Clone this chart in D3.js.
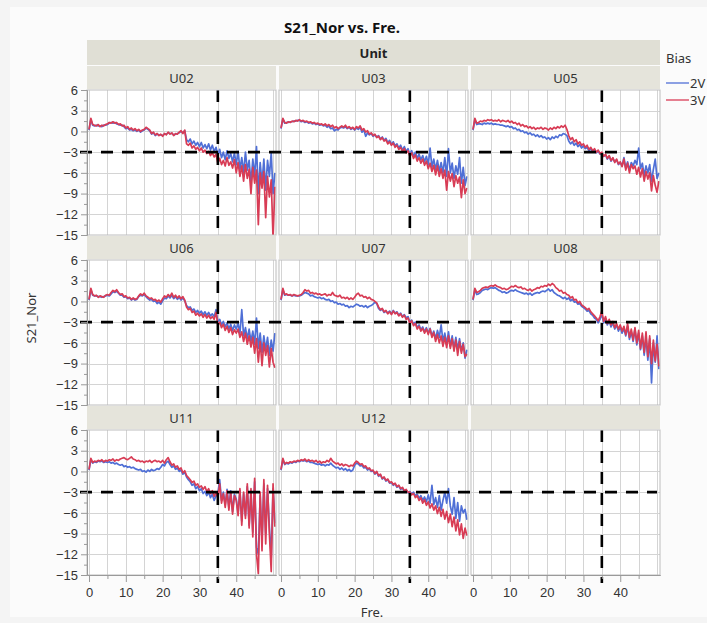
<!DOCTYPE html>
<html>
<head>
<meta charset="utf-8">
<script src="https://cdn.jsdelivr.net/npm/d3@7"></script>
<style>
body { margin: 0; background: #f7f7f7; }
svg { display: block; font-family: "Segoe UI", "Noto Sans", "Open Sans", sans-serif; }
</style>
</head>
<body>
<svg width="707" height="623"></svg>
<script>
const units = ["U02", "U03", "U05", "U06", "U07", "U08", "U11", "U12"]
const biasLevels = ["2V", "3V"]
const biasColors = ["#4f6fd6", "#d83c55"]
const yTicks = [6, 3, 0, -3, -6, -9, -12, -15]
const xTicks = [0, 10, 20, 30, 40]
const refFre = 35
const refS21 = -3
// frequency grid, 0 .. 50.5 every 0.5
const fre = d3.range(0, 50.51, 0.5)

const u02_2V = [
 0.2, 1.7, 0.9, 0.8, 0.9, 0.8, 0.8, 0.7, 0.9, 0.9,
 1.0, 1.2, 1.3, 1.2, 1.3, 1.1, 1.0, 0.9, 0.9, 0.7,
 0.4, 0.5, 0.2, 0.3, 0.1, 0.2, 0.0, 0.2, -0.1, 0.1,
 0.2, 0.5, 0.3, 0.1, -0.4, -0.2, -0.6, -0.4, -0.5, -0.5,
 -0.6, -0.4, -0.4, -0.2, -0.3, -0.3, -0.5, -0.4, -0.3, -0.2,
 0.0, -0.2, 0.1, -1.2, -1.5, -1.1, -1.8, -1.4, -2.0, -1.6,
 -2.2, -1.6, -2.4, -1.9, -2.5, -1.8, -2.7, -2.0, -2.9, -2.3,
 -3.4, -2.6, -3.8, -3.0, -4.1, -2.8, -3.9, -3.2, -4.4, -3.1,
 -4.8, -2.9, -5.5, -3.8, -6.0, -3.0, -5.6, -4.2, -7.5, -4.0,
 -6.5, -2.2, -9.0, -4.5, -7.5, -4.0, -8.5, -4.2, -6.5, -3.1,
 -9.0, -6.0]
const u02_3V = [
 0.3, 1.9, 1.0, 0.9, 0.8, 1.0, 0.7, 0.9, 0.8, 1.0,
 1.1, 1.3, 1.2, 1.4, 1.2, 1.3, 1.0, 1.1, 0.8, 0.9,
 0.5, 0.7, 0.3, 0.5, 0.2, 0.4, 0.1, 0.3, 0.0, 0.2,
 0.3, 0.6, 0.4, 0.2, -0.3, -0.1, -0.5, -0.3, -0.6, -0.4,
 -0.7, -0.3, -0.5, -0.1, -0.4, -0.2, -0.6, -0.3, -0.4, -0.1,
 0.1, -0.3, 0.2, -1.8, -2.0, -1.7, -2.4, -2.1, -2.6, -2.3,
 -2.8, -2.4, -3.0, -2.7, -3.2, -2.9, -3.5, -3.1, -3.7, -3.3,
 -4.6, -3.9, -4.8, -4.2, -5.0, -3.8, -4.9, -4.4, -5.3, -4.1,
 -6.0, -4.5, -6.5, -5.0, -7.2, -4.8, -6.8, -5.5, -9.0, -5.2,
 -7.5, -5.6, -13.5, -6.0, -8.2, -5.8, -12.5, -6.5, -9.5, -7.0,
 -15.5, -8.0]

const u03_2V = [
 0.4, 1.8, 1.2, 1.3, 1.3, 1.4, 1.4, 1.5, 1.5, 1.6,
 1.6, 1.4, 1.5, 1.3, 1.4, 1.2, 1.3, 1.1, 1.2, 1.0,
 1.1, 0.9, 1.0, 0.8, 0.9, 0.6, 0.8, 0.4, 0.5, 0.1,
 0.3, 0.2, 0.5, 0.6, 0.5, 0.7, 0.4, 0.6, 0.3, 0.5,
 0.2, 0.5, 0.3, 0.6, -0.1, 0.2, -0.7, -0.2, -0.5, -0.3,
 -0.7, -0.5, -0.8, -0.6, -1.1, -0.8, -1.3, -1.0, -1.6, -1.3,
 -1.9, -1.5, -2.1, -1.8, -2.4, -2.0, -2.7, -2.2, -2.9, -2.5,
 -3.3, -2.8, -3.6, -3.0, -3.9, -3.3, -4.1, -3.5, -4.4, -3.6,
 -4.8, -2.4, -5.2, -4.0, -5.5, -4.2, -5.8, -4.5, -6.0, -3.8,
 -6.5, -2.5, -6.0, -4.6, -6.8, -5.0, -6.2, -3.8, -7.5, -5.2,
 -7.8, -6.5]
const u03_3V = [
 0.5, 1.9, 1.3, 1.2, 1.4, 1.3, 1.5, 1.4, 1.6, 1.5,
 1.7, 1.5, 1.6, 1.4, 1.5, 1.3, 1.4, 1.2, 1.3, 1.1,
 1.2, 1.0, 1.1, 0.9, 1.1, 0.8, 1.0, 0.7, 0.9, 0.5,
 0.7, 0.4, 0.6, 0.8, 0.6, 0.9, 0.5, 0.7, 0.4, 0.6,
 0.3, 0.7, 0.5, 0.8, 0.2, 0.4, -0.1, 0.1, -0.4, -0.2,
 -0.6, -0.4, -0.9, -0.7, -1.2, -0.9, -1.4, -1.2, -1.8, -1.5,
 -2.0, -1.7, -2.3, -2.0, -2.6, -2.3, -2.9, -2.5, -3.1, -2.8,
 -3.6, -3.1, -3.9, -3.4, -4.3, -3.8, -4.6, -4.0, -4.9, -4.3,
 -5.4, -4.6, -5.8, -4.9, -6.3, -5.0, -6.5, -5.4, -6.8, -5.6,
 -8.5, -5.8, -7.2, -6.1, -8.0, -6.4, -7.5, -6.6, -9.6, -7.0,
 -9.0, -8.2]

const u05_2V = [
 0.2, 1.7, 1.0, 1.1, 1.1, 1.0, 1.2, 1.1, 1.2, 1.1,
 1.2, 1.0, 1.1, 1.0, 1.0, 0.9, 0.9, 0.8, 0.7, 0.8,
 0.6, 0.7, 0.4, 0.5, 0.2, 0.3, 0.0, 0.1, -0.2, -0.1,
 -0.4, -0.2, -0.5, -0.4, -0.7, -0.5, -0.8, -0.6, -0.9, -0.8,
 -1.1, -0.9, -1.2, -0.8, -1.0, -0.7, -0.9, -0.5, -0.6, -0.3,
 -0.4, -0.6, -1.4, -1.8, -1.5, -2.0, -1.7, -2.2, -1.9, -2.4,
 -2.1, -2.5, -2.3, -2.8, -2.5, -3.0, -2.7, -3.1, -2.8, -3.3,
 -3.1, -3.6, -3.4, -4.0, -3.6, -4.3, -3.9, -4.4, -4.1, -4.8,
 -4.5, -5.0, -3.8, -5.3, -4.4, -5.6, -4.5, -5.0, -4.2, -4.8,
 -2.4, -5.4, -4.6, -6.4, -5.0, -6.0, -4.8, -7.2, -5.5, -4.0,
 -6.8, -6.0]
const u05_3V = [
 0.3, 1.9, 1.2, 1.3, 1.5, 1.4, 1.6, 1.5, 1.7, 1.6,
 1.7, 1.5, 1.6, 1.5, 1.7, 1.4, 1.6, 1.5, 1.4, 1.6,
 1.3, 1.5, 1.2, 1.3, 1.0, 1.2, 0.8, 1.0, 0.7, 0.8,
 0.5, 0.7, 0.4, 0.6, 0.3, 0.5, 0.4, 0.6, 0.3, 0.5,
 0.4, 0.2, 0.5, 0.3, 0.6, 0.4, 0.7, 0.5, 0.8, 0.6,
 0.9, 0.3, -0.6, -1.2, -0.9, -1.5, -1.2, -1.8, -1.5, -2.0,
 -1.8, -2.3, -2.0, -2.6, -2.3, -2.8, -2.5, -3.0, -2.7, -3.2,
 -3.0, -3.6, -3.3, -3.9, -3.5, -4.2, -3.8, -4.5, -4.0, -4.7,
 -4.4, -5.1, -4.0, -5.6, -4.6, -6.0, -4.8, -5.4, -5.0, -6.2,
 -5.2, -6.6, -5.4, -7.2, -5.8, -6.9, -6.0, -8.6, -6.4, -7.8,
 -8.8, -7.2]

const u06_2V = [
 0.2, 1.7, 0.9, 0.8, 0.8, 0.7, 0.7, 0.6, 0.7, 0.8,
 0.9, 0.8, 1.1, 1.4, 1.3, 1.5, 1.2, 0.9, 0.9, 0.6,
 0.7, 0.4, 0.5, 0.2, 0.4, 0.2, 0.3, 0.7, 0.9, 0.8,
 1.0, 0.7, 0.4, 0.2, 0.3, 0.0, 0.1, -0.3, -0.1, -0.4,
 0.1, 0.5, 0.4, 0.8, 0.5, 0.9, 0.4, 0.7, 0.3, 0.6,
 0.2, 0.5, 0.1, -0.6, -0.9, -0.8, -1.3, -1.1, -1.6, -1.3,
 -1.7, -1.4, -1.9, -1.5, -2.0, -1.6, -2.1, -1.8, -2.2, -1.2,
 -3.0, -2.6, -3.4, -2.9, -3.7, -3.1, -4.0, -3.3, -4.2, -3.4,
 -4.0, -3.2, -4.6, -1.2, -5.0, -3.8, -5.4, -4.0, -5.8, -4.3,
 -6.2, -2.4, -6.8, -4.6, -7.4, -5.0, -7.0, -5.2, -7.8, -5.6,
 -7.2, -4.6]
const u06_3V = [
 0.3, 1.9, 1.0, 0.8, 0.9, 0.6, 0.8, 0.7, 0.6, 0.9,
 1.0, 0.9, 1.3, 1.6, 1.4, 1.7, 1.3, 1.0, 1.1, 0.7,
 0.8, 0.5, 0.6, 0.3, 0.5, 0.3, 0.4, 0.8, 1.1, 0.9,
 1.2, 0.8, 0.6, 0.4, 0.5, 0.2, 0.3, 0.0, 0.2, -0.1,
 0.4, 0.8, 0.6, 1.0, 0.7, 1.2, 0.6, 0.9, 0.5, 0.8,
 0.4, 0.7, 0.2, -0.8, -1.2, -1.0, -1.6, -1.4, -2.0, -1.7,
 -2.1, -1.8, -2.3, -1.9, -2.4, -2.0, -2.5, -2.2, -2.6, -1.6,
 -3.4, -3.0, -3.8, -3.3, -4.2, -3.6, -4.5, -3.8, -4.8, -4.1,
 -4.6, -4.0, -5.2, -4.4, -5.8, -4.6, -6.2, -5.0, -6.6, -5.2,
 -7.5, -5.4, -8.8, -5.8, -9.3, -6.0, -7.8, -6.4, -9.5, -6.8,
 -8.8, -9.6]

const u07_2V = [
 0.2, 1.7, 0.9, 1.0, 0.9, 0.9, 0.8, 0.9, 0.8, 0.8,
 0.8, 0.9, 1.1, 1.3, 1.2, 1.1, 0.8, 0.9, 0.7, 0.6,
 0.5, 0.6, 0.4, 0.5, 0.3, 0.2, 0.3, 0.0, 0.1, -0.2,
 -0.1, -0.4, -0.3, -0.5, -0.4, -0.7, -0.6, -0.9, -0.7, -0.8,
 -0.6, -0.4, -0.5, -0.7, -0.6, -0.8, -0.6, -0.9, -0.7, -0.6,
 -0.4, -0.1, -0.3, -1.0, -1.3, -1.1, -1.6, -1.4, -1.7, -1.4,
 -1.8, -1.3, -1.7, -1.5, -2.0, -1.7, -2.2, -1.9, -2.4, -2.2,
 -3.0, -2.7, -3.3, -3.0, -3.8, -3.4, -4.1, -3.7, -4.4, -3.8,
 -4.6, -3.9, -5.0, -4.3, -5.4, -4.2, -5.2, -3.4, -5.8, -4.6,
 -6.2, -4.4, -6.5, -5.0, -6.8, -5.2, -7.0, -5.4, -7.2, -6.0,
 -8.2, -7.0]
const u07_3V = [
 0.3, 1.9, 1.0, 1.1, 0.9, 1.0, 0.8, 1.0, 0.9, 0.8,
 0.9, 1.0, 1.3, 1.7, 1.5, 1.6, 1.2, 1.3, 1.1, 1.2,
 1.0, 1.1, 0.9, 1.0, 1.1, 0.8, 1.0, 0.9, 1.3, 0.9,
 0.8, 0.7, 0.9, 0.5, 0.6, 0.4, 0.6, 0.3, 0.5, 0.3,
 0.6, 1.0, 1.2, 0.8, 0.9, 0.6, 0.7, 0.4, 0.6, 0.3,
 0.2, 0.0, -0.2, -0.8, -1.2, -1.0, -1.5, -1.3, -1.8, -1.5,
 -1.9, -1.4, -1.8, -1.6, -2.1, -1.8, -2.3, -2.0, -2.6, -2.4,
 -3.2, -2.8, -3.5, -3.2, -4.0, -3.6, -4.3, -3.9, -4.6, -4.0,
 -4.8, -4.0, -5.2, -4.5, -5.8, -4.8, -6.0, -5.0, -6.5, -5.2,
 -6.7, -5.0, -6.8, -5.4, -7.2, -5.6, -7.8, -5.8, -7.5, -6.2,
 -8.0, -7.6]

const u08_2V = [
 0.2, 1.7, 1.0, 1.1, 1.3, 1.6, 1.7, 1.8, 1.7, 1.9,
 2.0, 1.9, 2.0, 1.8, 1.6, 1.5, 1.3, 1.4, 1.2, 1.3,
 1.5, 1.6, 1.5, 1.7, 1.5, 1.4, 1.3, 1.2, 1.1, 1.2,
 1.0, 1.2, 0.9, 1.1, 1.2, 1.3, 1.2, 1.4, 1.5, 1.4,
 1.6, 1.8, 1.5, 1.7, 1.3, 1.1, 0.9, 0.8, 0.6, 0.4,
 0.6, 0.3, 0.5, 0.1, 0.3, -0.1, 0.0, -0.4, -0.3, -0.7,
 -0.9, -1.1, -1.4, -1.3, -1.8, -2.0, -2.4, -2.6, -3.1, -2.6,
 -1.8, -3.1, -2.5, -3.4, -2.8, -3.7, -3.1, -4.0, -3.4, -4.3,
 -3.7, -4.6, -3.9, -5.0, -3.6, -5.5, -4.4, -5.8, -4.0, -6.3,
 -4.6, -7.0, -5.0, -7.8, -5.2, -8.5, -5.4, -11.8, -6.0, -8.8,
 -5.0, -9.8]
const u08_3V = [
 0.3, 1.9, 1.3, 1.4, 1.6, 1.9, 2.0, 2.1, 2.0, 2.2,
 2.3, 2.2, 2.4, 2.2, 2.1, 2.0, 1.8, 1.9, 1.7, 1.8,
 2.0, 2.2, 2.1, 2.3, 2.1, 2.0, 2.1, 1.8, 1.9, 1.7,
 1.6, 1.8, 1.5, 1.7, 1.8, 2.0, 1.9, 2.2, 2.1, 2.3,
 2.2, 2.5, 2.3, 2.6, 2.4, 2.0, 1.8, 1.5, 1.6, 1.2,
 1.3, 1.0, 0.9, 0.5, 0.7, 0.2, 0.3, -0.2, 0.0, -0.5,
 -0.7, -0.9, -1.2, -1.0, -1.5, -1.8, -2.1, -2.4, -2.8, -2.2,
 -1.4, -2.9, -2.2, -3.2, -2.6, -3.4, -2.9, -3.8, -3.2, -4.0,
 -3.4, -4.3, -3.6, -4.8, -3.2, -5.2, -4.0, -5.6, -3.8, -6.0,
 -4.2, -6.8, -4.6, -7.4, -4.4, -8.0, -5.0, -9.0, -5.6, -8.6,
 -6.2, -9.4]

const u11_2V = [
 0.2, 1.7, 1.2, 1.4, 1.3, 1.5, 1.4, 1.5, 1.3, 1.4,
 1.3, 1.4, 1.2, 1.3, 1.1, 1.2, 1.0, 0.9, 1.0, 0.7,
 0.8, 0.6, 0.7, 0.5, 0.6, 0.4, 0.3, 0.2, 0.3, 0.0,
 0.1, -0.1, 0.2, 0.0, 0.3, 0.1, 0.2, 0.4, 0.3, 0.6,
 1.0, 0.8, 1.3, 1.5, 1.0, 0.6, 0.8, 0.3, 0.5, 0.0,
 0.2, -0.4, -0.1, -0.8, -1.2, -1.5, -2.0, -1.8, -2.5, -2.2,
 -2.8, -2.5, -3.2, -2.9, -3.5, -3.0, -3.8, -3.3, -4.2, -3.5,
 -3.2, -1.2, -4.2, -3.0, -4.8, -2.6, -5.2, -2.8, -5.8, -3.3,
 -4.0, -6.0, -2.8, -7.2, -3.2, -6.4, -2.2, -7.8, -3.0, -8.8,
 -1.5, -11.0, -12.0, -3.5, -10.0, -1.8, -9.0, -2.5, -8.0, -12.5,
 -2.5, -7.5]
const u11_3V = [
 0.3, 1.9, 1.3, 1.5, 1.4, 1.6, 1.5, 1.7, 1.4, 1.6,
 1.5, 1.7, 1.6, 1.8, 1.5, 1.7, 1.6, 1.8, 1.9, 2.0,
 1.8, 1.7, 1.9, 2.1, 1.8, 1.7, 1.5, 1.6, 1.4, 1.5,
 1.3, 1.5, 1.4, 1.6, 1.3, 1.5, 1.6, 1.4, 1.5, 1.3,
 1.6, 1.2, 1.7, 2.0, 1.4, 0.9, 1.1, 0.6, 0.8, 0.3,
 0.5, -0.2, 0.1, -0.6, -0.9, -1.2, -1.6, -1.4, -2.0, -1.8,
 -2.3, -2.1, -2.6, -2.2, -2.9, -2.5, -3.2, -2.8, -3.6, -3.0,
 -3.8, -1.8, -4.6, -3.2, -5.2, -2.8, -5.6, -3.0, -6.2, -3.5,
 -4.2, -6.4, -2.5, -7.8, -3.0, -6.8, -1.8, -8.2, -2.5, -9.5,
 -1.0, -12.0, -14.8, -3.0, -11.5, -1.2, -10.5, -2.0, -9.0, -14.5,
 -1.8, -8.0]

const u12_2V = [
 0.2, 1.7, 1.0, 1.2, 1.1, 1.3, 1.2, 1.4, 1.3, 1.5,
 1.4, 1.6, 1.5, 1.6, 1.4, 1.5, 1.3, 1.3, 1.2, 1.1,
 1.0, 1.1, 0.9, 1.0, 0.8, 1.0, 0.9, 1.2, 0.9, 0.7,
 0.5, 0.6, 0.3, 0.5, 0.2, 0.4, 0.1, 0.3, 0.0, 0.2,
 0.9, 1.2, 1.1, 0.8, 0.9, 0.5, 0.6, 0.2, 0.4, 0.0,
 0.1, -0.4, -0.1, -0.7, -0.5, -1.1, -0.9, -1.4, -1.2, -1.7,
 -1.6, -2.0, -1.8, -2.3, -2.1, -2.6, -2.4, -2.9, -2.7, -3.1,
 -2.9, -3.3, -3.0, -3.5, -3.3, -3.9, -3.5, -4.2, -3.7, -4.4,
 -3.4, -4.6, -2.0, -4.8, -3.8, -5.2, -3.5, -5.6, -4.2, -3.0,
 -4.6, -2.5, -5.0, -6.2, -3.8, -6.8, -4.5, -7.2, -5.0, -6.0,
 -5.5, -7.0]
const u12_3V = [
 0.3, 1.9, 1.1, 1.3, 1.2, 1.4, 1.3, 1.5, 1.4, 1.6,
 1.5, 1.7, 1.6, 1.8, 1.5, 1.7, 1.5, 1.6, 1.4, 1.6,
 1.3, 1.5, 1.2, 1.4, 1.3, 1.6, 1.4, 1.9, 1.5, 1.3,
 1.1, 1.2, 0.9, 1.1, 0.8, 1.0, 0.9, 0.7, 0.9, 0.8,
 1.2, 1.5, 1.3, 1.0, 1.1, 0.7, 0.8, 0.4, 0.5, 0.1,
 0.2, -0.3, 0.0, -0.6, -0.4, -1.0, -0.8, -1.3, -1.1, -1.6,
 -1.5, -1.9, -1.7, -2.2, -2.0, -2.5, -2.3, -2.8, -2.6, -3.0,
 -3.0, -3.4, -3.2, -3.8, -3.5, -4.2, -3.8, -4.6, -4.1, -4.9,
 -4.4, -5.3, -4.7, -5.6, -5.0, -6.1, -5.2, -6.5, -5.5, -6.9,
 -5.8, -7.4, -6.2, -8.0, -6.6, -8.6, -7.0, -9.2, -7.6, -9.7,
 -8.2, -9.3]

const seriesByUnit = {
    U02: [u02_2V, u02_3V], U03: [u03_2V, u03_3V], U05: [u05_2V, u05_3V],
    U06: [u06_2V, u06_3V], U07: [u07_2V, u07_3V], U08: [u08_2V, u08_3V],
    U11: [u11_2V, u11_3V], U12: [u12_2V, u12_3V]
}

let svg = d3.select("svg")

svg.append("rect").attr("width", 707).attr("height", 623).attr("fill", "#f4f4f4")
svg.append("rect").attr("x", 10).attr("y", 7).attr("width", 697).attr("height", 610).attr("fill", "#fbfbfb")

// panel grid geometry
const colX = [87, 279, 471]
const rowY = [66, 236, 406]
const pw = 189, ph = 145, hh = 24
const left = colX[0], right = colX[2] + pw

let x = d3.scaleLinear().domain([-0.55, 50.8]).range([0, pw])
let y = d3.scaleLinear().domain([-15, 6]).range([ph, 0])

svg.append("text")
    .attr("x", 342).attr("y", 33)
    .attr("text-anchor", "middle")
    .attr("font-size", "15px").attr("font-weight", "bold").attr("fill", "#111")
    .text("S21_Nor vs. Fre.")

// "Unit" group header
svg.append("rect")
    .attr("x", left).attr("y", 40).attr("width", right - left).attr("height", 25)
    .attr("fill", "#e0dfd5")
svg.append("text")
    .attr("x", (left + right) / 2).attr("y", 58)
    .attr("text-anchor", "middle").attr("font-size", "13px").attr("font-weight", "bold").attr("fill", "#222")
    .text("Unit")

let line = d3.line()
    .x((d, j) => x(fre[j]))
    .y(d => y(d))

for (let i = 0; i < 9; i++) {
    let col = i % 3, row = Math.floor(i / 3)
    let unit = units[i] || ""
    let g = svg.append("g").attr("transform", "translate(" + colX[col] + "," + rowY[row] + ")")

    g.append("rect")
        .attr("x", 0).attr("y", 0).attr("width", pw).attr("height", hh - 1)
        .attr("fill", "#e5e4db")
    g.append("text")
        .attr("x", pw / 2).attr("y", hh / 2 + 5)
        .attr("text-anchor", "middle").attr("font-size", "13px").attr("fill", "#333")
        .text(unit)

    let p = g.append("g").attr("transform", "translate(0," + hh + ")")
    p.append("rect").attr("width", pw).attr("height", ph).attr("fill", "#fff")

    p.selectAll(".vg")
        .data(d3.range(0, 51, 5))
        .join("line")
        .attr("x1", d => Math.round(x(d)) + 0.5).attr("x2", d => Math.round(x(d)) + 0.5)
        .attr("y1", 0).attr("y2", ph)
        .attr("stroke", "#d4d4d4")
    p.selectAll(".hg")
        .data(yTicks.slice(1, -1))
        .join("line")
        .attr("x1", 0).attr("x2", pw)
        .attr("y1", d => Math.round(y(d)) + 0.5).attr("y2", d => Math.round(y(d)) + 0.5)
        .attr("stroke", "#d4d4d4")

    let clipId = "clip" + i
    p.append("clipPath").attr("id", clipId)
        .append("rect").attr("width", pw).attr("height", ph)

    if (seriesByUnit[unit]) {
        p.append("g").attr("clip-path", "url(#" + clipId + ")")
            .selectAll("path")
            .data(seriesByUnit[unit])
            .join("path")
            .attr("d", line)
            .attr("fill", "none")
            .attr("stroke", (d, k) => biasColors[k])
            .attr("stroke-width", 1.7)
            .attr("stroke-linejoin", "round")
    }

    // vertical reference at 35
    p.append("line")
        .attr("x1", x(refFre)).attr("x2", x(refFre))
        .attr("y1", 0).attr("y2", row == 2 ? ph + 8 : ph)
        .attr("stroke", "#000").attr("stroke-width", 2.6)
        .attr("stroke-dasharray", "12,9")

    p.append("rect").attr("width", pw).attr("height", ph)
        .attr("fill", "none").attr("stroke", "#bdbdbd")
}

// horizontal reference at -3, one per row
for (let row = 0; row < 3; row++) {
    let yy = rowY[row] + hh + y(refS21)
    svg.append("line")
        .attr("x1", 80).attr("x2", right - 3)
        .attr("y1", yy).attr("y2", yy)
        .attr("stroke", "#000").attr("stroke-width", 2.6)
        .attr("stroke-dasharray", "12,9")
}

let styleAxis = (a) => {
    a.select(".domain").attr("stroke", "#9a9a9a")
    a.selectAll(".tick line").attr("stroke", "#9a9a9a")
    a.selectAll("text").attr("font-size", "13px").attr("fill", "#333").attr("font-family", null)
}

const yMinor = [4.5, 1.5, -1.5, -4.5, -7.5, -10.5, -13.5]
for (let row = 0; row < 3; row++) {
    let top = rowY[row] + hh
    svg.append("g")
        .attr("transform", "translate(" + left + "," + top + ")")
        .call(d3.axisLeft(y).tickValues(yMinor).tickSize(3).tickSizeOuter(0).tickFormat(""))
        .call(styleAxis)
    svg.append("g")
        .attr("transform", "translate(" + left + "," + top + ")")
        .call(d3.axisLeft(y).tickValues(yTicks).tickSize(6).tickSizeOuter(0).tickPadding(3))
        .call(styleAxis)
}

const xMinor = [5, 15, 25, 35, 45]
for (let col = 0; col < 3; col++) {
    let bottom = rowY[2] + hh + ph
    svg.append("g")
        .attr("transform", "translate(" + colX[col] + "," + bottom + ")")
        .call(d3.axisBottom(x).tickValues(xMinor).tickSize(4).tickSizeOuter(0).tickFormat(""))
        .call(styleAxis)
    svg.append("g")
        .attr("transform", "translate(" + colX[col] + "," + bottom + ")")
        .call(d3.axisBottom(x).tickValues(xTicks).tickSize(7).tickSizeOuter(0).tickPadding(6))
        .call(styleAxis)
}

svg.append("text")
    .attr("transform", "translate(36," + 318 + ") rotate(-90)")
    .attr("text-anchor", "middle").attr("font-size", "13px").attr("fill", "#333")
    .text("S21_Nor")

svg.append("text")
    .attr("x", 372).attr("y", 617)
    .attr("text-anchor", "middle").attr("font-size", "13px").attr("fill", "#333")
    .text("Fre.")

// legend
svg.append("text")
    .attr("x", 666).attr("y", 63)
    .attr("font-size", "13px").attr("fill", "#333")
    .text("Bias")

let leg = svg.selectAll(".leg")
    .data(biasLevels)
    .join("g")
    .attr("transform", (d, k) => "translate(666," + (83 + k * 17) + ")")
leg.append("line")
    .attr("x1", 0).attr("x2", 23)
    .attr("stroke", (d, k) => biasColors[k]).attr("stroke-width", 1.3)
leg.append("text")
    .attr("x", 24).attr("y", 5)
    .attr("font-size", "13px").attr("fill", "#333")
    .text(d => d)
</script>
</body>
</html>
